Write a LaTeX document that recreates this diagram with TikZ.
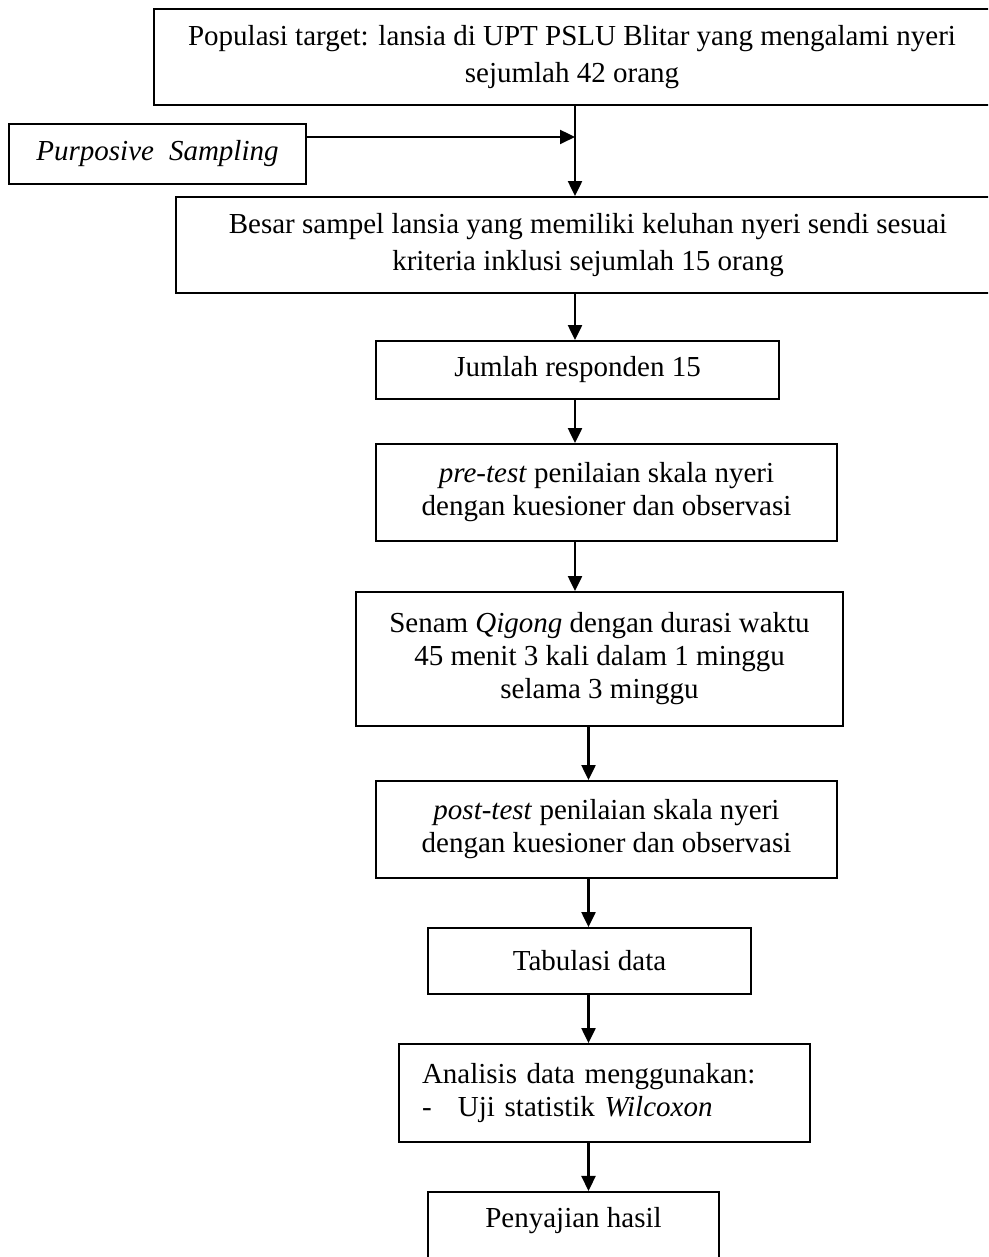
\documentclass[tikz,border=0pt]{standalone}
\usepackage{fontspec}
\setmainfont{Liberation Serif}
\usetikzlibrary{arrows.meta}

\begin{document}
\begin{tikzpicture}[x=1pt,y=1pt,
  box/.style={draw=drawColor,line width=1.8pt,rectangle,inner sep=0pt,align=center,font=\fontsize{29}{33}\selectfont},
  link/.style={draw=drawColor,line width=2.2pt},
  arr/.style={link,-{Triangle[length=15pt,width=14pt]}}]
\definecolor{fillColor}{RGB}{255,255,255}
\definecolor{drawColor}{RGB}{0,0,0}
\path[use as bounding box,fill=fillColor] (0,0) rectangle (988,1257);
\begin{scope}
\path[clip] (0,0) rectangle (988,1257);

\node[box,minimum width=836pt,minimum height=96pt,font=\fontsize{29}{37.5}\selectfont] (pop) at (572,1200) {Populasi target: lansia di UPT PSLU Blitar yang mengalami nyeri\\sejumlah 42 orang};

\node[box,minimum width=297pt,minimum height=60pt] (purp) at (157.5,1103) {\textit{Purposive}\hspace{15pt}\textit{Sampling}};

\node[box,minimum width=824pt,minimum height=96pt,font=\fontsize{29}{37.5}\selectfont] (sample) at (588,1012) {Besar sampel lansia yang memiliki keluhan nyeri sendi sesuai\\kriteria inklusi sejumlah 15 orang};

\node[box,minimum width=403pt,minimum height=58pt] (jumlah) at (577.5,887) {Jumlah responden 15};

\node[box,minimum width=461pt,minimum height=97pt] (pre) at (606.5,764.5) {\textit{pre-test} penilaian skala nyeri\\dengan kuesioner dan observasi};

\node[box,minimum width=487pt,minimum height=134pt] (senam) at (599.5,598) {Senam \textit{Qigong} dengan durasi waktu\\45 menit 3 kali dalam 1 minggu\\selama 3 minggu};

\node[box,minimum width=461pt,minimum height=97pt] (post) at (606.5,427.5) {\textit{post-test} penilaian skala nyeri\\dengan kuesioner dan observasi};

\node[box,minimum width=323pt,minimum height=66pt] (tab) at (589.5,296) {Tabulasi data};

\node[box,minimum width=411pt,minimum height=98pt,text width=365pt,align=left] (anal) at (604.5,164) {Analisis data menggunakan:\\\makebox[36pt][l]{-}Uji statistik \textit{Wilcoxon}};

\node[box,anchor=north,minimum width=291pt,text height=36pt,text depth=50pt] (hasil) at (573.5,66) {Penyajian hasil};

\coordinate (j) at (575,1120);
\coordinate (k) at (588.5,598);

\draw[link] (pop.south -| j) -- (j);
\draw[arr] (purp.east |- j) -- (j);
\draw[arr] (j) -- (sample.north -| j);
\draw[arr] (sample.south -| j) -- (jumlah.north -| j);
\draw[arr] (jumlah.south -| j) -- (pre.north -| j);
\draw[arr] (pre.south -| j) -- (senam.north -| j);
\draw[arr] (senam.south -| k) -- (post.north -| k);
\draw[arr] (post.south -| k) -- (tab.north -| k);
\draw[arr] (tab.south -| k) -- (anal.north -| k);
\draw[arr] (anal.south -| k) -- (hasil.north -| k);
\end{scope}
\end{tikzpicture}
\end{document}
